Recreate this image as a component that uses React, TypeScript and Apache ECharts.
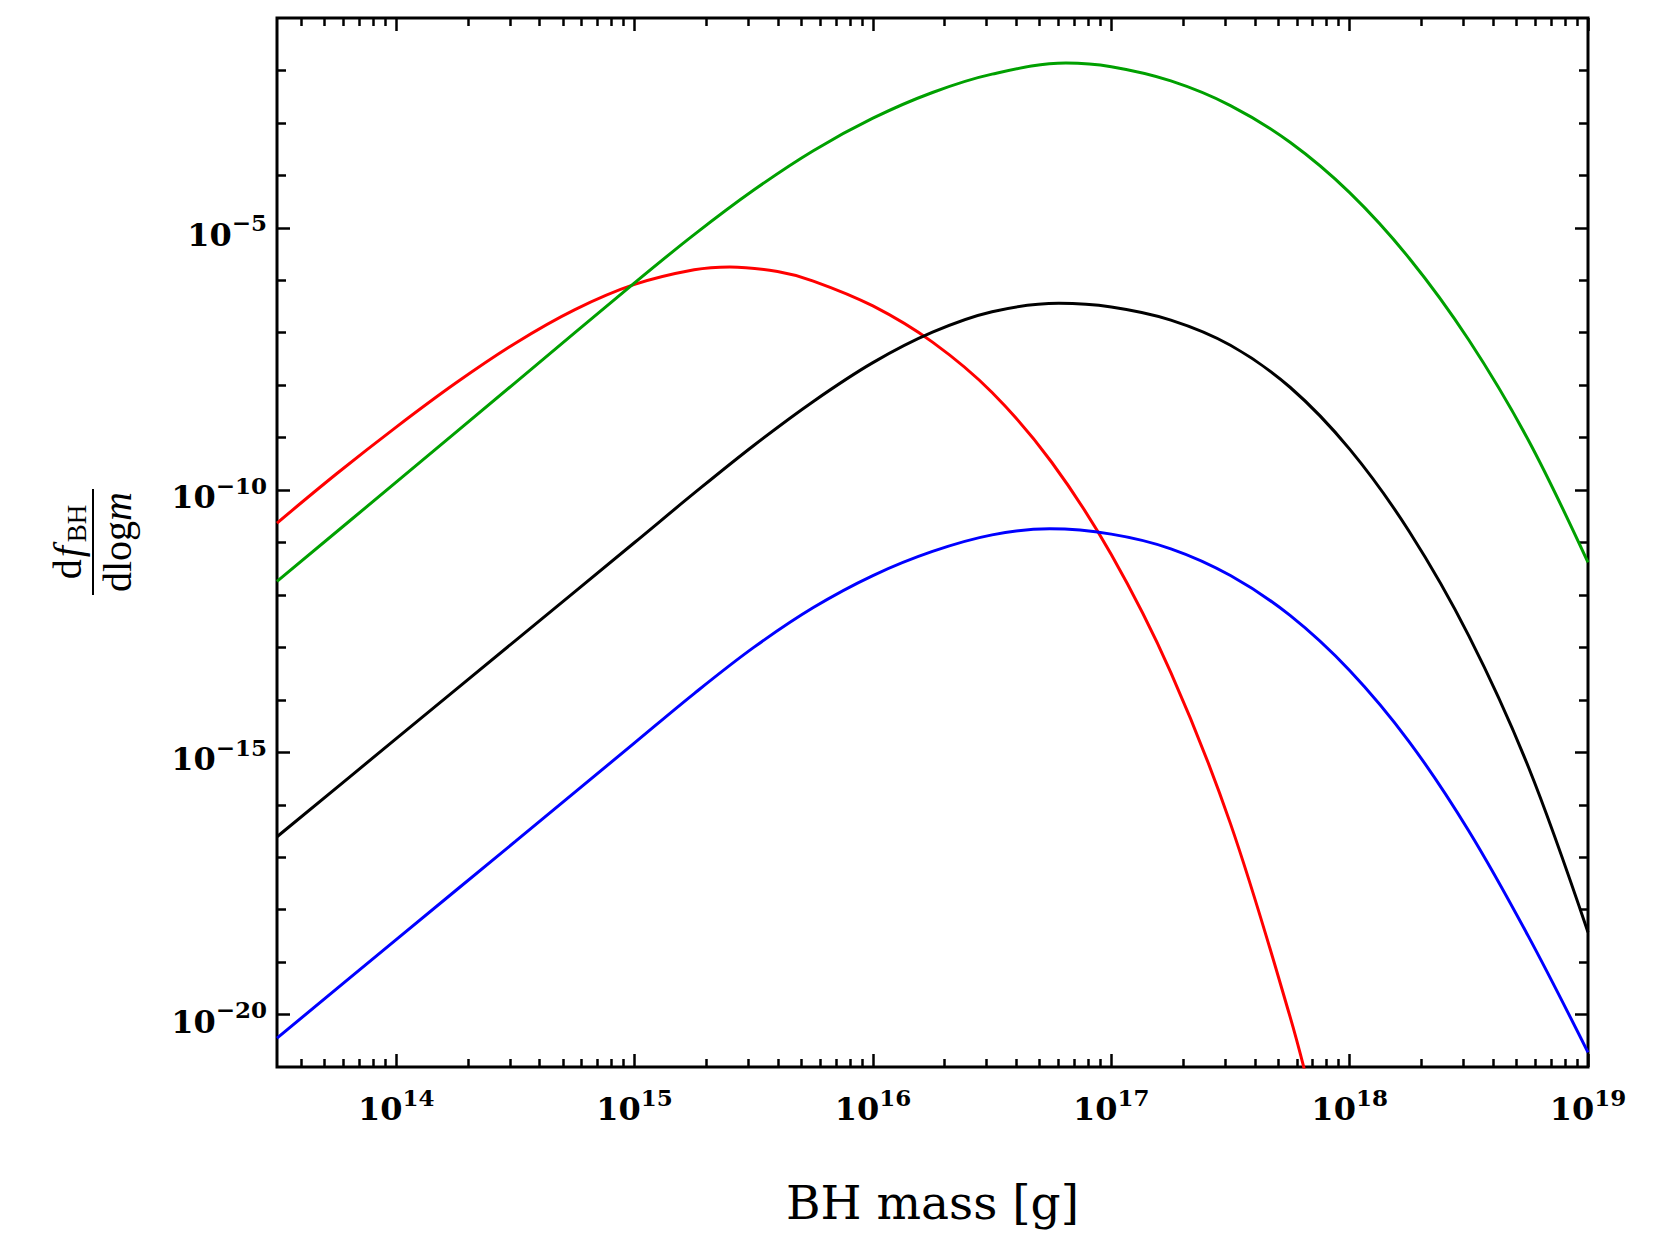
import React, { useEffect, useRef } from "react";
import * as echarts from "echarts";

// ---- axis range (log10 units) and tick positions ----
const xRangeExp = [13.5, 19];
const yRangeExp = [-21, -1];
const xMajorExps = [14, 15, 16, 17, 18, 19];
const xMinorDecades = [13, 14, 15, 16, 17, 18];
const xMinorMultipliers = [2, 3, 4, 5, 6, 7, 8, 9];
const yLabelExps = [-20, -15, -10, -5];
const yTickExps = [-20, -19, -18, -17, -16, -15, -14, -13, -12, -11, -10, -9, -8, -7, -6, -5, -4, -3, -2];

// ---- series values: log10(mass/g) and log10(df/dlogm) ----
const redLogM = [13.5, 13.75, 14.0, 14.25, 14.5, 14.75, 15.0, 15.25, 15.4, 15.6, 15.75, 16.0, 16.25, 16.5, 16.75, 17.0, 17.25, 17.5, 17.75, 17.85];
const redLogF = [-10.63, -9.69, -8.8, -7.96, -7.2, -6.56, -6.08, -5.8, -5.745, -5.835, -6.015, -6.49, -7.18, -8.14, -9.47, -11.23, -13.48, -16.36, -20.04, -21.77];

const greenLogM = [13.5, 14.0, 14.5, 15.0, 15.25, 15.5, 15.75, 16.0, 16.25, 16.5, 16.81, 17.0, 17.25, 17.5, 17.75, 18.0, 18.25, 18.5, 18.75, 19.0];
const greenLogF = [-11.74, -9.85, -7.95, -6.05, -5.13, -4.28, -3.53, -2.91, -2.42, -2.07, -1.86, -1.93, -2.2, -2.67, -3.37, -4.33, -5.58, -7.14, -9.05, -11.38];

const blackLogM = [13.5, 14.0, 14.5, 15.0, 15.25, 15.5, 15.75, 16.0, 16.25, 16.5, 16.78, 17.0, 17.25, 17.5, 17.75, 18.0, 18.25, 18.5, 18.75, 19.0];
const blackLogF = [-16.61, -14.74, -12.87, -11.0, -10.06, -9.15, -8.31, -7.57, -6.99, -6.6, -6.44, -6.51, -6.76, -7.24, -8.04, -9.22, -10.79, -12.78, -15.28, -18.43];

const blueLogM = [13.5, 14.0, 14.5, 15.0, 15.25, 15.5, 15.75, 16.0, 16.25, 16.5, 16.742, 17.0, 17.25, 17.5, 17.75, 18.0, 18.25, 18.5, 18.75, 19.0];
const blueLogF = [-20.45, -18.57, -16.7, -14.82, -13.88, -13.0, -12.24, -11.63, -11.17, -10.855, -10.74, -10.84, -11.12, -11.63, -12.39, -13.44, -14.8, -16.5, -18.51, -20.72];

const seriesDefs = [
  { name: "red", color: "#ff0000", logM: redLogM, logF: redLogF },
  { name: "green", color: "#00a000", logM: greenLogM, logF: greenLogF },
  { name: "black", color: "#000000", logM: blackLogM, logF: blackLogF },
  { name: "blue", color: "#0000ff", logM: blueLogM, logF: blueLogF },
];

const xTitle = "BH mass [g]";

const pow10 = (e: number) => Math.pow(10, e);

const xMajorVals = xMajorExps.map(pow10);
const xMinorVals: number[] = [];
xMinorDecades.forEach((d) =>
  xMinorMultipliers.forEach((k) => {
    const v = k * pow10(d);
    if (v > pow10(xRangeExp[0]) && v < pow10(xRangeExp[1])) xMinorVals.push(v);
  })
);
const yMajorVals = yLabelExps.map(pow10);
const yMinorVals = yTickExps.filter((e) => yLabelExps.indexOf(e) < 0).map(pow10);

const expLabel = (value: number) => {
  const e = Math.round(Math.log10(value));
  const s = e < 0 ? "\u2212" + String(-e) : String(e);
  return `{b|10}{s|${s}}`;
};

const labelRich = {
  b: {
    fontFamily: "DejaVu Serif",
    fontWeight: "bold",
    fontSize: 32,
    lineHeight: 36,
    color: "#000",
  },
  s: {
    fontFamily: "DejaVu Serif",
    fontWeight: "bold",
    fontSize: 23,
    lineHeight: 23,
    padding: [0, 0, 24, 0],
    color: "#000",
  },
};

const BLACK = "#000";

function xAxisDef(position: "top" | "bottom", major: boolean, withLabels: boolean) {
  return {
    type: "log",
    logBase: 10,
    position,
    min: pow10(xRangeExp[0]),
    max: pow10(xRangeExp[1]),
    axisLine: { show: false, onZero: false },
    axisTick: {
      show: true,
      inside: true,
      length: major ? 13 : 8,
      lineStyle: { color: BLACK, width: 2.5 },
      customValues: major ? xMajorVals : xMinorVals,
    },
    axisLabel: withLabels
      ? {
          show: true,
          margin: 24,
          customValues: xMajorVals,
          formatter: expLabel,
          rich: labelRich,
        }
      : { show: false },
    splitLine: { show: false },
    minorTick: { show: false },
    ...(withLabels
      ? {
          name: xTitle,
          nameLocation: "middle",
          nameGap: 112,
          nameTextStyle: {
            fontFamily: "DejaVu Serif",
            fontSize: 47,
            color: "#000",
          },
        }
      : {}),
  };
}

function yAxisDef(position: "left" | "right", major: boolean, withLabels: boolean) {
  return {
    type: "log",
    logBase: 10,
    position,
    min: pow10(yRangeExp[0]),
    max: pow10(yRangeExp[1]),
    axisLine: { show: false, onZero: false },
    axisTick: {
      show: true,
      inside: true,
      length: major ? 13 : 9,
      lineStyle: { color: BLACK, width: 2.5 },
      customValues: major ? yMajorVals : yMinorVals,
    },
    axisLabel: withLabels
      ? {
          show: true,
          margin: 10,
          padding: [14, 0, 0, 0],
          customValues: yMajorVals,
          formatter: expLabel,
          rich: labelRich,
        }
      : { show: false },
    splitLine: { show: false },
    minorTick: { show: false },
  };
}

const option: any = {
  animation: false,
  backgroundColor: "#ffffff",
  grid: {
    show: true,
    left: 277,
    top: 18,
    width: 1311,
    height: 1049,
    borderColor: BLACK,
    borderWidth: 3,
    backgroundColor: "transparent",
    containLabel: false,
    outerBoundsMode: "none",
  },
  xAxis: [
    xAxisDef("bottom", true, true),
    xAxisDef("bottom", false, false),
    xAxisDef("top", true, false),
    xAxisDef("top", false, false),
  ],
  yAxis: [
    yAxisDef("left", true, true),
    yAxisDef("left", false, false),
    yAxisDef("right", true, false),
    yAxisDef("right", false, false),
  ],
  graphic: [
    {
      type: "group",
      x: 93,
      y: 542,
      rotation: Math.PI / 2,
      children: [
        {
          type: "line",
          shape: { x1: -53, y1: 0, x2: 53, y2: 0 },
          style: { stroke: "#000", lineWidth: 2 },
        },
        {
          type: "text",
          x: 0,
          y: -3,
          style: {
            text: "d{i|f}{s|BH}",
            align: "center",
            verticalAlign: "bottom",
            fontFamily: "Liberation Serif",
            fontSize: 40,
            fill: "#000",
            rich: {
              i: { fontFamily: "Liberation Serif", fontStyle: "italic", fontSize: 40, padding: [0, 4, 0, 2] },
              s: { fontFamily: "Liberation Serif", fontSize: 27, padding: [18, 0, 0, 0] },
            },
          },
        },
        {
          type: "text",
          x: 0,
          y: 4,
          style: {
            text: "dlog{i|m}",
            align: "center",
            verticalAlign: "top",
            fontFamily: "Liberation Serif",
            fontSize: 40,
            fill: "#000",
            rich: {
              i: { fontFamily: "Liberation Serif", fontStyle: "italic", fontSize: 40 },
            },
          },
        },
      ],
    },
  ],
  series: seriesDefs.map((s) => ({
    name: s.name,
    type: "line",
    xAxisIndex: 0,
    yAxisIndex: 0,
    showSymbol: false,
    symbol: "none",
    smooth: 0.35,
    clip: true,
    lineStyle: { color: s.color, width: 3 },
    itemStyle: { color: s.color },
    data: s.logM.map((m, i) => [pow10(m), pow10(s.logF[i])]),
  })),
};

export default function App() {
  const ref = useRef<HTMLDivElement>(null);
  useEffect(() => {
    if (!ref.current) return;
    const chart = echarts.init(ref.current, null, { renderer: "svg" });
    chart.setOption(option);
    return () => {
      chart.dispose();
    };
  }, []);
  return (
    <div
      ref={ref}
      style={{ position: "absolute", left: 0, top: 0, width: 1671, height: 1234, background: "#fff" }}
    />
  );
}
